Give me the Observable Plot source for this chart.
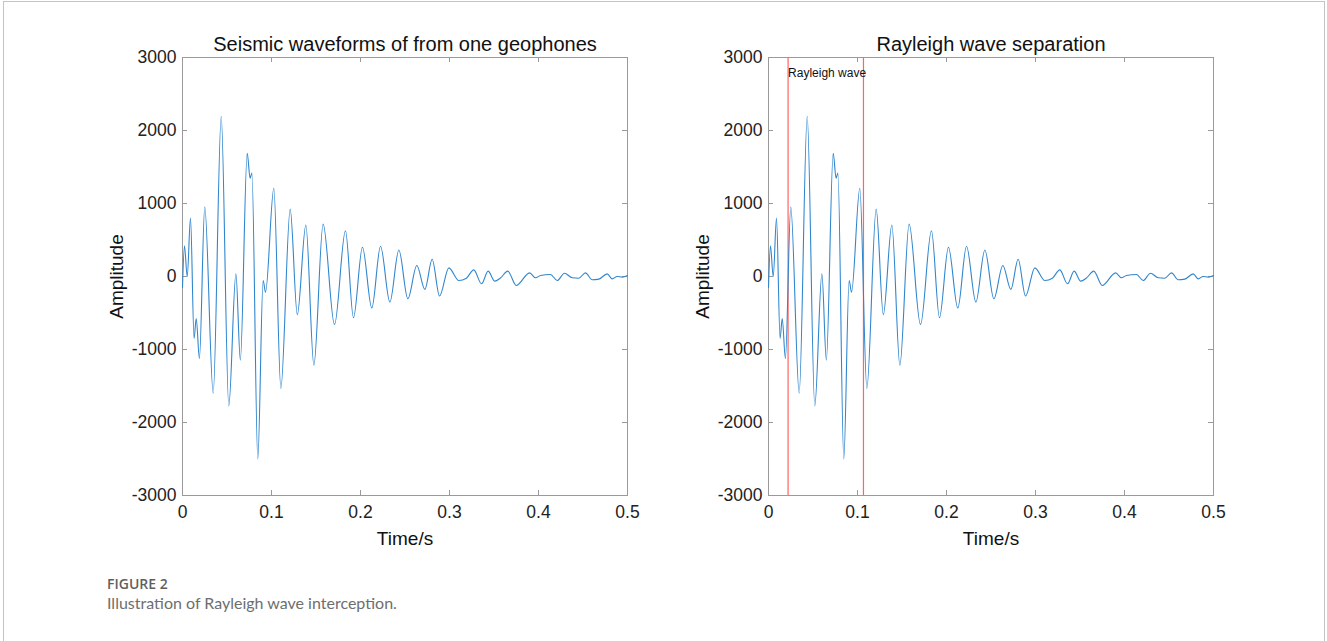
<!DOCTYPE html>
<html>
<head>
<meta charset="utf-8">
<script src="https://cdn.jsdelivr.net/npm/d3@7"></script>
<script src="https://cdn.jsdelivr.net/npm/@observablehq/plot@0.6"></script>
<style>
  html, body { margin: 0; padding: 0; background: #fff; }
  #root { position: relative; width: 1327px; height: 641px; overflow: hidden; background: #fff; }
  #border { position: absolute; left: 3px; top: 1px; width: 1320px; height: 700px; border: 1px solid #c4c4c4; border-bottom: none; }
  .panel { position: absolute; top: 0; }
  #cap1 { position: absolute; left: 107px; top: 574px; font-family: "Open Sans", Lato, sans-serif; font-weight: 600; font-size: 14px; color: #5f5f5f; }
  #cap2 { position: absolute; left: 107px; top: 593px; font-family: Lato, "Open Sans", sans-serif; font-weight: 400; font-size: 16px; color: #6e6e6e; }
</style>
</head>
<body>
<div id="root">
  <div id="border"></div>
  <div id="p1" class="panel" style="left:0px"></div>
  <div id="p2" class="panel" style="left:640px"></div>
  <div id="cap1">FIGURE 2</div>
  <div id="cap2">Illustration of Rayleigh wave interception.</div>
</div>
<script>
// Waveform turning points (time in s, amplitude)
const times = [0, 0.0022, 0.0053, 0.009, 0.013, 0.0154, 0.019, 0.025, 0.0345, 0.0435, 0.052, 0.060, 0.065, 0.0727, 0.076, 0.078, 0.0846, 0.0906, 0.0933, 0.1026, 0.1105, 0.121, 0.129, 0.1386, 0.1476, 0.158, 0.1708, 0.1831, 0.1921, 0.2022, 0.2127, 0.2225, 0.2330, 0.2431, 0.2532, 0.2633, 0.2723, 0.2805, 0.2888, 0.2993, 0.3105, 0.319, 0.3273, 0.336, 0.3434, 0.3509, 0.357, 0.3655, 0.375, 0.390, 0.3966, 0.4022, 0.4135, 0.421, 0.4292, 0.4379, 0.4453, 0.4528, 0.4603, 0.4678, 0.4772, 0.4828, 0.4884, 0.494, 0.5];
const amplitudes = [-150, 420, 0, 800, -850, -577, -1123, 955, -1600, 2195, -1773, 36, -1145, 1686, 1345, 1418, -2500, -55, -214, 1209, -1532, 923, -523, 705, -1214, 718, -659, 627, -564, 400, -432, 414, -350, 364, -305, 150, -177, 236, -268, 118, -55, -23, 91, -100, 73, -64, -23, 73, -123, 50, -18, 14, 27, -55, 45, -18, -23, 50, -45, -36, 36, -32, 0, -9, 14];
const xTicks = [0, 0.1, 0.2, 0.3, 0.4, 0.5];
const yTicks = [-3000, -2000, -1000, 0, 1000, 2000, 3000];
const titles = ["Seismic waveforms of from one geophones", "Rayleigh wave separation"];
const xLabel = "Time/s";
const yLabel = "Amplitude";
const separationTimes = [0.022, 0.1067];
const separationLabel = "Rayleigh wave";
const separationLabelAmp = 2780;

const wave = times.map((t, i) => ({t, a: amplitudes[i]}));

const FONT = "'Liberation Sans', Arial, Helvetica, sans-serif";
const AX = "#9a9a9a";

function panel(title, withSep, width, marginLeft, marginRight) {
  const frameW = width - marginLeft - marginRight;
  const frameH = 560 - 57 - 65;
  const marks = [
    Plot.frame({stroke: AX}),
    Plot.tickX(xTicks, {x: d => d, insetTop: frameH - 5, stroke: AX}),
    Plot.tickX(xTicks, {x: d => d, insetBottom: frameH - 5, stroke: AX}),
    Plot.tickY(yTicks, {y: d => d, insetRight: frameW - 5, stroke: AX}),
    Plot.tickY(yTicks, {y: d => d, insetLeft: frameW - 5, stroke: AX}),
    Plot.axisX(xTicks, {tickSize: 0, tickPadding: 10, tickFormat: d => String(d), label: null, fontSize: 17.5, fill: "#222"}),
    Plot.axisY(yTicks, {tickSize: 0, tickPadding: 6, tickFormat: d => String(d), label: null, fontSize: 17.5, fill: "#222"})
  ];
  if (withSep) {
    marks.push(Plot.ruleX(separationTimes, {x: d => d, stroke: "#ff6464", strokeWidth: 1.2}));
  }
  marks.push(Plot.line(wave, {x: "t", y: "a", curve: "monotone-x", stroke: "#2f86cf", strokeWidth: 1.1}));
  if (withSep) {
    marks.push(Plot.text([{t: separationTimes[0], a: separationLabelAmp, s: separationLabel}],
      {x: "t", y: "a", text: "s", textAnchor: "start", fontSize: 12, fill: "#111"}));
  }
  marks.push(
    Plot.text([title], {frameAnchor: "top", dy: -13, lineAnchor: "middle", textAnchor: "middle", fontSize: 20, fill: "#111"}),
    Plot.text([xLabel], {frameAnchor: "bottom", dy: 43, lineAnchor: "middle", textAnchor: "middle", fontSize: 19, fill: "#111"}),
    Plot.text([yLabel], {frameAnchor: "left", dx: -66, rotate: -90, lineAnchor: "middle", textAnchor: "middle", fontSize: 19, fill: "#111"})
  );
  return Plot.plot({
    width, height: 560,
    marginLeft, marginRight, marginTop: 57, marginBottom: 65,
    x: {domain: [0, 0.5]},
    y: {domain: [-3000, 3000]},
    style: {fontFamily: FONT, background: "transparent", overflow: "visible"},
    marks
  });
}

document.getElementById("p1").appendChild(panel(titles[0], false, 640, 182, 13));
document.getElementById("p2").appendChild(panel(titles[1], true, 687, 128, 114));
</script>
</body>
</html>
